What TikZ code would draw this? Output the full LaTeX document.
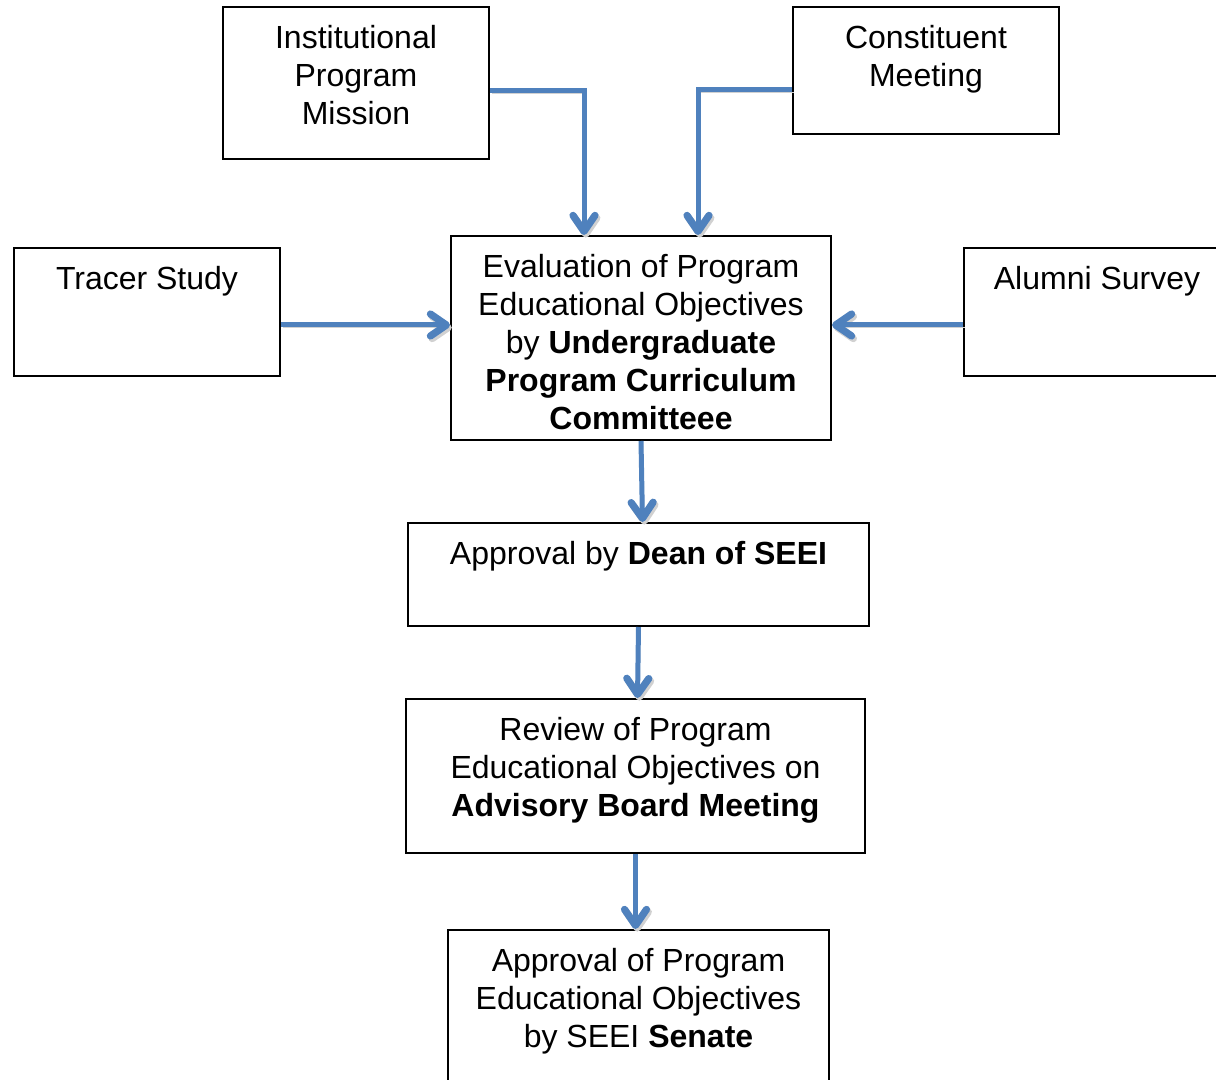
\documentclass[tikz,border=0pt]{standalone}
\usepackage{fontspec}
\setmainfont{Liberation Sans}
\usepackage{tikz}
\usetikzlibrary{arrows.meta,positioning}
\definecolor{peoBlue}{HTML}{4F81BD}
\tikzset{
  peobox/.style={rectangle,draw=black,line width=1pt,fill=white,inner sep=0pt},
  peotext/.style={anchor=north,align=center,inner sep=0pt,font=\fontsize{16}{19}\selectfont},
  arrow/.style={-{Straight Barb[length=8pt,width=11pt,round,line width=3.6pt]},draw=peoBlue,line width=2.5pt,
    preaction={draw=black!18,transform canvas={xshift=0.9pt,yshift=-1.3pt}}}
}

\begin{document}
\begin{tikzpicture}[x=1pt,y=-1pt]
  \useasboundingbox (0,0) rectangle (608,540);
  \clip (0,0) rectangle (608,540);
  % input boxes
  \node[peobox,minimum width=133pt,minimum height=76pt] (inst) at (178,41.5) {};
  \node[peobox,minimum width=133pt,minimum height=63.5pt] (const) at (463,35.25) {};
  \node[peobox,minimum width=133pt,minimum height=64pt] (tracer) at (73.5,156) {};
  \node[peobox,minimum width=133pt,minimum height=64pt] (alumni) at (548.5,156) {};
  % main column
  \node[peobox,minimum width=190pt,minimum height=102pt] (eval) at (320.5,169) {};
  \node[peobox,minimum width=230.5pt,minimum height=51.5pt] (dean) at (319.25,287.25) {};
  \node[peobox,minimum width=229.5pt,minimum height=77pt] (review) at (317.75,388) {};
  \node[peobox,minimum width=190.5pt,minimum height=100pt] (senate) at (319.25,515) {};
  % texts
  \node[peotext,below=9.6pt of inst.north] (insttext) {Institutional\\Program\\Mission};
  \node[peotext,below=9.6pt of const.north] (consttext) {Constituent\\Meeting};
  \node[peotext,below=9.6pt of tracer.north] (tracertext) {Tracer Study};
  \node[peotext,below=9.6pt of alumni.north] (alumnitext) {Alumni Survey};
  \node[peotext,below=9.6pt of eval.north] (evaltext) {Evaluation of Program\\Educational Objectives\\by \textbf{Undergraduate}\\\textbf{Program Curriculum}\\\textbf{Committeee}};
  \node[peotext,below=9.6pt of dean.north] (deantext) {Approval by \textbf{Dean of SEEI}};
  \node[peotext,below=9.6pt of review.north] (reviewtext) {Review of Program\\Educational Objectives on\\\textbf{Advisory Board Meeting}};
  \node[peotext,below=9.6pt of senate.north] (senatetext) {Approval of Program\\Educational Objectives\\by SEEI \textbf{Senate}};
  % connectors
  \draw[arrow] ([yshift=-4pt]inst.east) -| ([xshift=-28.5pt]eval.north);
  \draw[arrow] ([yshift=-9.75pt]const.west) -| ([xshift=28.5pt]eval.north);
  \draw[arrow] ([yshift=-6.5pt]tracer.east) -- ([yshift=-6.5pt]tracer.east -| eval.west);
  \draw[arrow] ([yshift=-6.5pt]alumni.west) -- ([yshift=-6.5pt]alumni.west -| eval.east);
  \draw[arrow] (eval.south) -- ([xshift=2pt]dean.north);
  \draw[arrow] (dean.south) -- ([xshift=1pt]review.north);
  \draw[arrow] (review.south) -- ([xshift=-1.5pt]senate.north);
\end{tikzpicture}
\end{document}
